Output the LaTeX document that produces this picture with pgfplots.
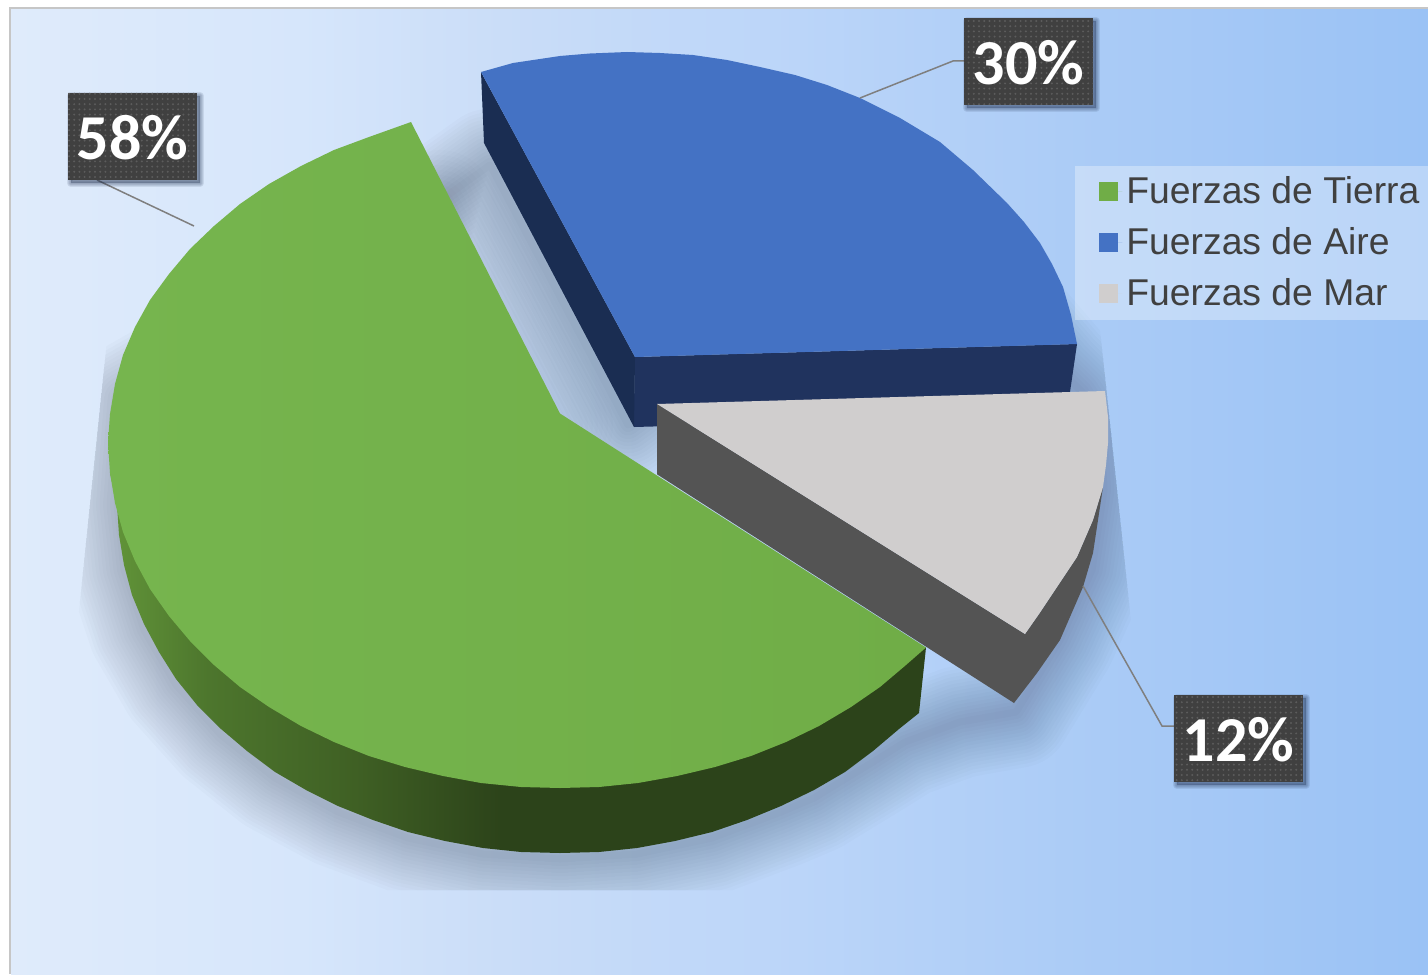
\documentclass[border=0pt]{standalone}
\usepackage{pgfplots}
\usepackage{pgfplotstable}
\usepackage{fontspec}
\pgfplotsset{compat=1.18}
\usetikzlibrary{patterns.meta}
\setmainfont{Liberation Sans}
\newfontfamily\labelfont{Carlito}

\definecolor{bgA}{HTML}{DFEBFB}
\definecolor{bgB}{HTML}{D6E6FB}
\definecolor{bgC}{HTML}{CADDF8}
\definecolor{bgD}{HTML}{BBD5F9}
\definecolor{bgE}{HTML}{AACBF6}
\definecolor{bgF}{HTML}{9AC2F5}
\definecolor{tierraL}{HTML}{76B54E}
\definecolor{tierraLeg}{HTML}{70AD47}
\definecolor{aire}{HTML}{4472C4}
\definecolor{aireA}{HTML}{1A2D52}
\definecolor{aireB}{HTML}{20335E}
\definecolor{mar}{HTML}{D0CECE}
\definecolor{marSide}{HTML}{545454}
\definecolor{boxgray}{HTML}{404040}
\definecolor{boxdot}{HTML}{5C5C5C}
\definecolor{leader}{HTML}{7F7F7F}
\definecolor{legtext}{HTML}{404040}
\definecolor{shadowc}{HTML}{1F2F4F}
\definecolor{pieshadow}{HTML}{141C2C}

\pgfdeclarehorizontalshading{bgfade}{100bp}{
  color(0bp)=(bgA); color(25bp)=(bgA); color(35.2bp)=(bgB); color(42.3bp)=(bgC);
  color(52.8bp)=(bgD); color(63.4bp)=(bgE); color(75bp)=(bgF); color(100bp)=(bgF)}
\definecolor{gsA}{HTML}{629539}
\definecolor{gsB}{HTML}{4D762D}
\definecolor{gsC}{HTML}{3F6024}
\definecolor{gsD}{HTML}{2C431A}
\pgfdeclarehorizontalshading{greenside}{100bp}{
  color(0bp)=(gsA); color(25bp)=(gsA); color(31bp)=(gsB); color(40bp)=(gsC);
  color(49bp)=(gsD); color(100bp)=(gsD)}

% outlines, in pixels of the reference
\pgfplotstableread{
x y
411 122
369 137
334 150
301 166
269 184
240 204
214 226
190 249
169 274
150 300
135 327
123 355
115 384
110 414
108 443
110 473
115 503
123 532
135 561
150 589
169 616
190 641
214 665
240 687
269 707
301 726
334 742
369 756
405 767
443 776
481 783
521 787
560 788
599 787
638 783
677 776
715 767
751 756
786 742
819 726
851 707
880 687
906 665
926 647.5
560 413.5
}\greentop

\pgfplotstableread{
x y
110 473
117 505
119 535
124 565
132 595
144 624
159 652
176 679
197 705
221 729
247 751
275 772
306 790
338 806
373 820
408 832
445 841
483 848
521 852
560 853
599 852
637 848
675 841
712 832
747 820
781 806
814 790
845 772
873 751
899 729
919 713
926 647.5
560 600
}\greenside

\pgfplotstableread{
x y
481 72
513 63
560 56
590 53.5
627 52
660 53
693 55
727 60
760 67
795 75
827 85
860 98
900 118
940 142
973 170
1007 203
1024 222
1040 243
1052 264
1063 287
1071 315
1077 344
635 357
}\bluetop

\pgfplotstableread{
x y
481 72
484 143
634 427
635 357
}\blueleft

\pgfplotstableread{
x y
634.5 357
1077 344
1070 392
900 420
634 427
}\bluefront

\pgfplotstableread{
x y
657 404
1105 391
1108 417
1108 443
1106 465
1103 487
1093 520
1077 557
1053 593
1039 614
1025 634
}\graytop

\pgfplotstableread{
x y
657 404
657 474.3
1014 703
1037 673
1060 640
1083 587
1093 553
1103 487
1093 520
1077 557
1053 593
1039 614
1025 634
}\grayside

% the line that the pie's shadow blurs out from; it runs under the slices
\pgfplotstableread{
x y
490 165
628 425
800 300
1000 300
1060 370
1082 392
1100 420
1104 490
1092 570
1060 640
1016 712
960 722
905 742
873 762
814 798
781 812
712 838
637 854
560 859
483 854
408 838
338 812
275 778
221 735
176 685
144 630
124 570
117 505
125 400
300 300
420 215
}\shadowline

% second line, along the green edge of the gap
\pgfplotstableread{
x y
440 205
558 425
}\gapline

\pgfplotsset{piece/.style={forget plot, draw=none}}

\newcommand{\labelbox}[5]{%
  \addplot[piece, fill=shadowc, fill opacity=0.35]
    coordinates {(#1+3,#2+3) (#3+3,#2+3) (#3+3,#4+3) (#1+3,#4+3)} -- cycle;
  \pgfplotsinvokeforeach{2,4,6,8}{%
    \addplot[forget plot, draw=shadowc, line width=##1*0.5pt, line join=round, draw opacity=0.1]
      coordinates {(#1+3,#2+3) (#3+3,#2+3) (#3+3,#4+3) (#1+3,#4+3)} -- cycle;
  }
  \addplot[piece, fill=boxgray] coordinates {(#1,#2) (#3,#2) (#3,#4) (#1,#4)} -- cycle;
  \addplot[piece, pattern={Dots[distance=2.6pt,radius=0.55pt,xshift=0.7pt,yshift=0.7pt]}, pattern color=boxdot]
    coordinates {(#1,#2) (#3,#2) (#3,#4) (#1,#4)} -- cycle;
  \node[text=white, font=\labelfont\fontsize{32}{32}\selectfont\bfseries, inner sep=0pt, anchor=center]
    at (axis cs:{(#1+#3)/2},{(#2+#4)/2+1}) {#5};
}

\begin{document}
\begin{tikzpicture}
\begin{axis}[
  width=714pt, height=487pt,
  scale only axis,
  xmin=0, xmax=1428,
  ymin=0, ymax=974,
  y dir=reverse,
  hide axis,
  clip=true,
  legend cell align=left,
  legend style={
    at={(axis cs:1099,172)}, anchor=north west,
    draw=none, fill=none, text=legtext,
    font=\fontsize{18.65}{21}\selectfont,
    inner xsep=0pt, inner ysep=0pt,
    row sep=6.5pt,
    /tikz/every even column/.append style={column sep=0pt},
  },
  legend image code/.code={%
    \fill[#1, draw=none] (0pt,-4.75pt) rectangle (9.5pt,4.75pt);
    \path[draw=none] (0pt,0pt) -- (11.5pt,0pt);},
]

% background
\addplot[piece, shading=bgfade] coordinates {(11,9) (1428,9) (1428,974) (11,974)} -- cycle;
\addplot[forget plot, draw=gray!45, line width=1pt] coordinates {(10,974) (10,8) (1428,8)};

% soft shadow under the pie
\begin{scope}
  \clip (axis cs:107,340) -- (axis cs:430,100) -- (axis cs:1076,100) -- (axis cs:1100,330)
    -- (axis cs:1133,640) -- (axis cs:1133,890) -- (axis cs:77,890) -- (axis cs:77,630) -- cycle;
  \pgfplotsinvokeforeach{7,14,...,112}{
    \addplot[forget plot, draw=pieshadow, line width=#1*0.5pt, line join=round, line cap=round, draw opacity=0.015] table {\shadowline} -- cycle;
  }
  \pgfplotsinvokeforeach{10,20,...,110}{
    \addplot[forget plot, draw=pieshadow, line width=#1*0.5pt, line cap=round, draw opacity=0.009] table {\gapline};
  }
\end{scope}

% slices
\addplot[piece, shading=greenside] table {\greenside} -- cycle;
\addplot[piece, left color=tierraL, right color=tierraLeg] table {\greentop} -- cycle;
\addplot[piece, fill=aireB] table {\bluefront} -- cycle;
\addplot[piece, fill=aireA] table {\blueleft} -- cycle;
\addplot[piece, fill=aire] table {\bluetop} -- cycle;
\addplot[piece, fill=marSide] table {\grayside} -- cycle;
\addplot[piece, fill=mar] table {\graytop} -- cycle;

% legend band
\addplot[piece, fill=white, fill opacity=0.32] coordinates {(1075,166) (1428,166) (1428,320) (1075,320)} -- cycle;

% leader lines
\addplot[forget plot, draw=leader, line width=0.75pt] coordinates {(97,180) (194,226)};
\addplot[forget plot, draw=leader, line width=0.75pt] coordinates {(964,61) (953,61) (860,98)};
\addplot[forget plot, draw=leader, line width=0.75pt] coordinates {(1174,726) (1162,726) (1083,586)};

% value labels
\labelbox{68}{93}{197}{180}{58\%}
\labelbox{964}{18}{1093}{105}{30\%}
\labelbox{1174}{695}{1303}{782}{12\%}

\addlegendimage{fill=tierraLeg}
\addlegendentry{Fuerzas de Tierra}
\addlegendimage{fill=aire}
\addlegendentry{Fuerzas de Aire}
\addlegendimage{fill=mar}
\addlegendentry{Fuerzas de Mar}
\end{axis}
\pgfresetboundingbox
\path (0,0) rectangle (714pt,487pt);
\end{tikzpicture}
\end{document}
